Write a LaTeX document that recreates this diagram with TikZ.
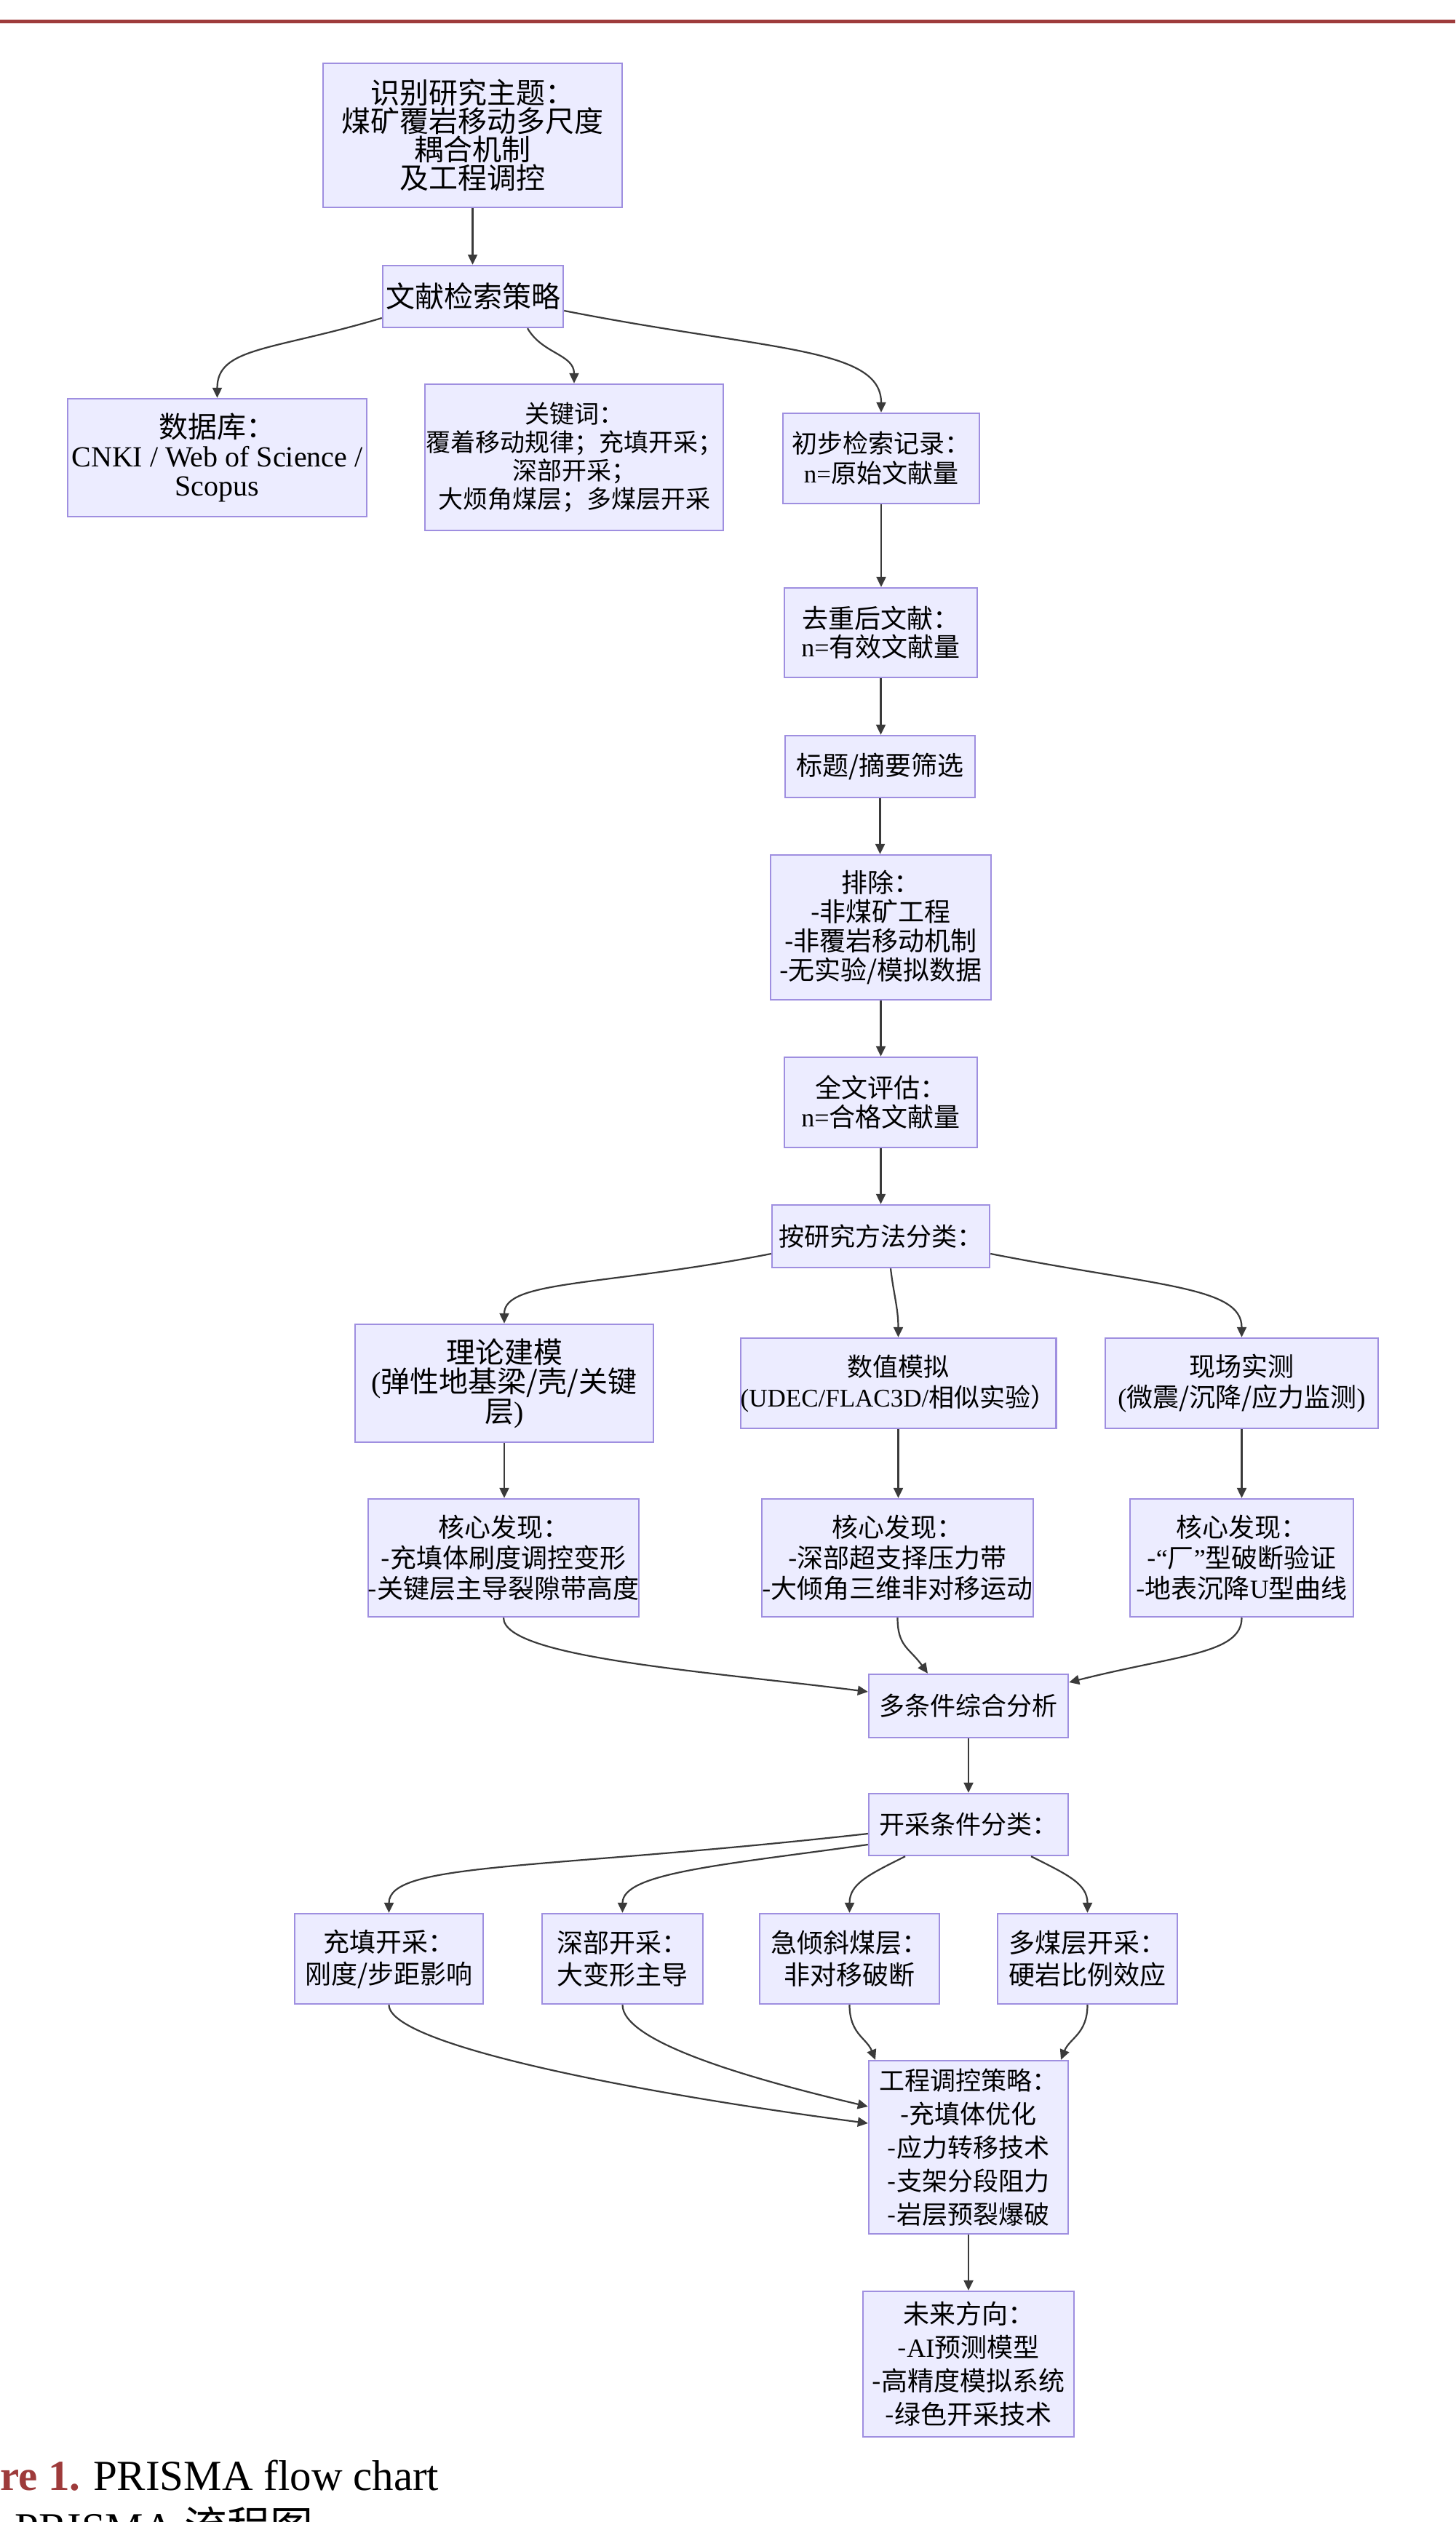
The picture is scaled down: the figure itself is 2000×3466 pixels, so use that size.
\documentclass[tikz,border=0pt]{standalone}
\usepackage{fontspec}
\setmainfont{Noto Sans CJK SC}
\newfontfamily\tms{Liberation Serif}
\usetikzlibrary{arrows.meta}
\definecolor{boxfill}{HTML}{ECECFF}
\definecolor{boxline}{HTML}{9F8FE0}
\definecolor{edgecol}{HTML}{3A3A3A}
\definecolor{capred}{HTML}{9E3B3B}
\newcommand\fsz[2]{\fontsize{#1}{#2}\selectfont}
\begin{document}
\begin{tikzpicture}[x=1pt,y=-1pt,
  box/.style={draw=boxline, fill=boxfill, line width=2.4pt, inner sep=0pt, align=center, font=\fsz{36}{40}},
  edge/.style={draw=edgecol, line width=2.2pt, -{Triangle[length=14pt,width=13pt]}},
]
\useasboundingbox (0,0) rectangle (2000,3466);
\clip (0,0) rectangle (2000,3466);
\fill[white] (0,0) rectangle (2000,3466);
% top rule
\fill[capred] (0,27.5) rectangle (2000,32.5);

% nodes
\node[box, minimum width=411pt, minimum height=198pt, font=\fsz{40}{39}] (topic) at (649.5,186) {识别研究主题：\\煤矿覆岩移动多尺度\\耦合机制\\及工程调控};
\node[box, minimum width=248pt, minimum height=85pt, font=\fsz{40}{40}] (search) at (650,407.5) {文献检索策略};
\node[box, minimum width=411pt, minimum height=162pt, font=\fsz{40}{40}] (db) at (298.5,629) {数据库：\\{\tms CNKI / Web of Science /}\\{\tms Scopus}};
\node[box, minimum width=410pt, minimum height=201pt, font=\fsz{34}{39}] (kw) at (789,628.5) {关键词：\\覆着移动规律；充填开采；\\深部开采；\\大烦角煤层；多煤层开采};
\node[box, minimum width=270pt, minimum height=124pt, font=\fsz{35}{41}] (init) at (1211,630) {初步检索记录：\\{\tms n=}原始文献量};
\node[box, minimum width=265pt, minimum height=123pt, font=\fsz{36}{39}] (dedup) at (1210.5,869.5) {去重后文献：\\{\tms n=}有效文献量};
\node[box, minimum width=261pt, minimum height=85pt] (screen) at (1209.5,1053.5) {标题/摘要筛选};
\node[box, minimum width=303pt, minimum height=199pt, font=\fsz{36}{40}] (excl) at (1210.5,1274.5) {排除：\\-非煤矿工程\\-非覆岩移动机制\\-无实验/模拟数据};
\node[box, minimum width=265pt, minimum height=124pt, font=\fsz{36}{40}] (full) at (1210.5,1515) {全文评估：\\{\tms n=}合格文献量};
\node[box, minimum width=299pt, minimum height=86pt, font=\fsz{35}{40}] (classify) at (1210.5,1699) {按研究方法分类：};

\node[box, minimum width=410pt, minimum height=162pt, font=\fsz{40}{40}] (theory) at (693,1901) {理论建模\\{\tms(}弹性地基梁/壳/关键\\层{\tms)}};
\node[box, minimum width=411pt, minimum height=124pt, font=\fsz{35}{42}] (numer) at (1234.5,1901) {数值模拟\\{\tms(UDEC/FLAC3D/}相似实验）};
\node[box, minimum width=375pt, minimum height=124pt, font=\fsz{36}{42}] (field) at (1706.5,1901) {现场实测\\{\tms(}微震/沉降/应力监测{\tms)}};

\node[box, minimum width=364pt, minimum height=162pt, font=\fsz{36}{42}] (core1) at (692,2141) {核心发现：\\-充填体刷度调控变形\\-关键层主导裂隙带高度};
\node[box, minimum width=365pt, minimum height=162pt, font=\fsz{36}{42}] (core2) at (1233.5,2141) {核心发现：\\-深部超支择压力带\\-大倾角三维非对移运动};
\node[box, minimum width=307pt, minimum height=162pt, font=\fsz{36}{42}] (core3) at (1706.5,2141) {核心发现：\\-{\tms “}厂{\tms ”}型破断验证\\-地表沉降{\tms U}型曲线};

\node[box, minimum width=274pt, minimum height=87pt, font=\fsz{35}{40}] (multi) at (1331,2344.5) {多条件综合分析};
\node[box, minimum width=274pt, minimum height=85pt, font=\fsz{35}{40}] (cond) at (1331,2507.5) {开采条件分类：};

\node[box, minimum width=259pt, minimum height=124pt, font=\fsz{36}{44}] (fill) at (534.5,2692) {充填开采：\\刚度/步距影响};
\node[box, minimum width=221pt, minimum height=124pt, font=\fsz{36}{44}] (deep) at (855.5,2692) {深部开采：\\大变形主导};
\node[box, minimum width=247pt, minimum height=124pt, font=\fsz{36}{44}] (steep) at (1167.5,2692) {急倾斜煤层：\\非对移破断};
\node[box, minimum width=247pt, minimum height=124pt, font=\fsz{36}{44}] (multis) at (1494.5,2692) {多煤层开采：\\硬岩比例效应};

\node[box, minimum width=274pt, minimum height=238pt, font=\fsz{35}{46}] (eng) at (1331,2951) {工程调控策略：\\-充填体优化\\-应力转移技术\\-支架分段阻力\\-岩层预裂爆破};
\node[box, minimum width=290pt, minimum height=200pt, font=\fsz{36}{46}] (future) at (1331,3249) {未来方向：\\-{\tms AI}预测模型\\-高精度模拟系统\\-绿色开采技术};

% straight edges
\draw[edge] (topic.south) -- (topic.south |- search.north);
\draw[edge] (init.south) -- (init.south |- dedup.north);
\draw[edge] (dedup.south) -- (dedup.south |- screen.north);
\draw[edge] (screen.south) -- (screen.south |- excl.north);
\draw[edge] (excl.south) -- (excl.south |- full.north);
\draw[edge] (full.south) -- (full.south |- classify.north);
\draw[edge] (theory.south) -- (theory.south |- core1.north);
\draw[edge] (numer.south) -- (numer.south |- core2.north);
\draw[edge] (field.south) -- (field.south |- core3.north);
\draw[edge] (multi.south) -- (multi.south |- cond.north);
\draw[edge] (eng.south) -- (eng.south |- future.north);

% curved edges from search
\draw[edge] ([yshift=-29.5pt]search.west) .. controls +(-150,45) and +(0,-70) .. (db.north);
\draw[edge] ([xshift=75pt]search.south) .. controls +(20,35) and +(0,-40) .. (kw.north);
\draw[edge] ([yshift=-19.5pt]search.east) .. controls +(280,55) and +(0,-90) .. (init.north);

% from classify
\draw[edge] ([yshift=-24pt]classify.west) .. controls +(-230,45) and +(0,-60) .. (theory.north);
\draw[edge] ([xshift=13.5pt]classify.south) .. controls +(4,35) and +(0,-40) .. (numer.north);
\draw[edge] ([yshift=-24pt]classify.east) .. controls +(230,45) and +(0,-70) .. (field.north);

% cores to multi
\draw[edge] (core1.south) .. controls +(0,55) and +(-220,-28) .. ([yshift=19.5pt]multi.west);
\draw[edge] (core2.south) .. controls +(0,40) and +(-25,-35) .. ([xshift=-56pt]multi.north);
\draw[edge] (core3.south) .. controls +(0,50) and +(150,-38) .. ([yshift=32.5pt]multi.east);

% cond to four
\draw[edge] ([yshift=-12.5pt]cond.west) .. controls +(-450,50) and +(0,-70) .. (fill.north);
\draw[edge] ([yshift=-27.5pt]cond.west) .. controls +(-200,28) and +(0,-55) .. (deep.north);
\draw[edge] ([xshift=-87pt]cond.south) .. controls +(-50,25) and +(0,-40) .. (steep.north);
\draw[edge] ([xshift=86pt]cond.south) .. controls +(50,25) and +(0,-40) .. (multis.north);

% four to eng
\draw[edge] (fill.south) .. controls +(0,55) and +(-320,-42) .. ([yshift=33pt]eng.west);
\draw[edge] (deep.south) .. controls +(0,50) and +(-170,-40) .. ([yshift=56pt]eng.west);
\draw[edge] (steep.south) .. controls +(0,40) and +(-12,-30) .. ([xshift=-128pt]eng.north);
\draw[edge] (multis.south) .. controls +(0,40) and +(12,-30) .. ([xshift=127pt]eng.north);

% caption (cropped as in the reference)
\node[anchor=base west, inner sep=0pt, font=\fsz{59}{64}] (cap1) at (0,3422) {{\tms\bfseries\color{capred}re 1.} {\tms PRISMA flow chart}};
\node[anchor=base west, inner sep=0pt, font=\fsz{59}{64}] (cap2) at (20,3494) {{\tms PRISMA} 流程图};
\end{tikzpicture}
\end{document}
